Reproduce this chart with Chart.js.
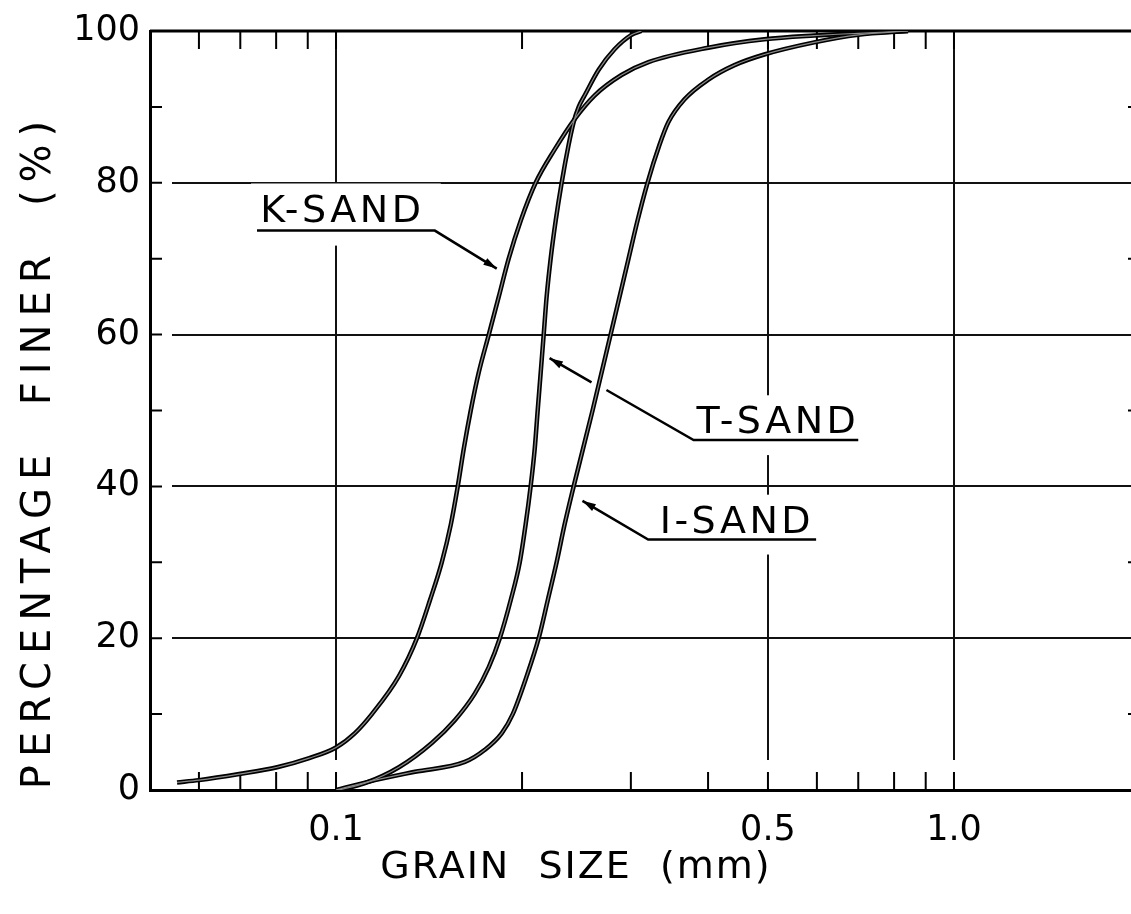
<!DOCTYPE html>
<html lang="en">
<head>
<meta charset="UTF-8">
<title>Grain size distribution</title>
<script src="https://cdn.jsdelivr.net/npm/chart.js@4.4.0/dist/chart.umd.min.js"></script>
<style>
  html, body { margin: 0; padding: 0; background: #fff; overflow: hidden; }
</style>
</head>
<body>
<canvas id="myChart" width="1145" height="914"></canvas>
<script>
// grain size (mm) / percentage finer (%)
const kSize  = [0.0553, 0.0600, 0.0697, 0.0803, 0.0905, 0.100, 0.1073, 0.1143, 0.1264, 0.1352, 0.1419, 0.1483, 0.1534, 0.1574, 0.1610, 0.1652, 0.1702, 0.1767, 0.1834, 0.1903, 0.1990, 0.2104, 0.2259, 0.2433, 0.2620, 0.2897, 0.3204, 0.4005, 0.4932, 0.5941, 0.70, 0.8427];
const kFiner = [1.0, 1.3, 2.1, 3.0, 4.2, 5.6, 7.5, 10, 15, 20, 25, 30, 35, 40, 45, 50, 55, 60, 65, 70, 75, 80, 84.4, 88.4, 91.5, 94.2, 95.9, 97.8, 98.9, 99.4, 99.7, 100];

const tSize  = [0.1011, 0.1114, 0.1264, 0.1429, 0.1557, 0.1677, 0.1767, 0.1841, 0.1917, 0.1983, 0.2027, 0.2065, 0.2097, 0.2120, 0.2144, 0.2168, 0.2192, 0.2225, 0.2267, 0.2318, 0.2379, 0.2424, 0.2470, 0.2525, 0.2661, 0.2823, 0.3008, 0.3121];
const tFiner = [0, 0.9, 3.0, 6.2, 9.2, 12.7, 16.2, 20, 25, 30, 35, 40, 45, 50, 55, 60, 65, 70, 75, 80, 85, 88, 90, 91.5, 94.9, 97.6, 99.5, 100];

const iSize  = [0.100, 0.1156, 0.1342, 0.1616, 0.1741, 0.1855, 0.1932, 0.2035, 0.2128, 0.2201, 0.2275, 0.2344, 0.2424, 0.2601, 0.2782, 0.2974, 0.3075, 0.3192, 0.3338, 0.3451, 0.3664, 0.4005, 0.4415, 0.4932, 0.5941, 0.70, 0.8427];
const iFiner = [0, 1.3, 2.4, 3.7, 5.3, 7.5, 10, 15, 20, 25, 30, 35, 40, 50, 60, 70, 75, 80, 85, 88, 91, 93.6, 95.5, 96.9, 98.5, 99.5, 100];

const xTickValues = [0.1, 0.5, 1.0];
const xTickLabels = ['0.1', '0.5', '1.0'];
const xMinorTicks = [0.06, 0.07, 0.08, 0.09, 0.1, 0.2, 0.3, 0.4, 0.5, 0.6, 0.7, 0.8, 0.9, 1.0];
const yLeftTicks = [10, 20, 30, 40, 50, 60, 70, 80, 90];
const yRightTicks = [10, 30, 50, 70, 90];

// labels with their leader lines, in data units
const notes = [
  { text: 'K-SAND', at: [0.0754, 74.9], line: [[0.0745, 73.7], [0.1445, 73.7], [0.182, 68.7]] },
  { text: 'T-SAND', at: [0.383, 47.0], line: [[0.700, 46.1], [0.379, 46.1], [0.2739, 52.7]], tail: [[0.2591, 53.7], [0.2216, 56.9]] },
  { text: 'I-SAND', at: [0.334, 33.9], line: [[0.5983, 33.0], [0.3200, 33.0], [0.2505, 38.1]] }
];

Chart.defaults.font.family = "'DejaVu Sans', sans-serif";
Chart.defaults.color = '#000';

function pts(xs, ys) {
  return xs.map((v, i) => ({ x: v, y: ys[i] }));
}

const curves = [pts(kSize, kFiner), pts(tSize, tFiner), pts(iSize, iFiner)];
const datasets = [];
curves.forEach(c => {
  datasets.push({ data: c, borderColor: '#000', borderWidth: 4.5, pointRadius: 0, cubicInterpolationMode: 'monotone', order: 2 });
  datasets.push({ data: c, borderColor: '#8a8a8a', borderWidth: 1.2, pointRadius: 0, cubicInterpolationMode: 'monotone', order: 1 });
});

function arrow(ctx, p0, p1) {
  const a = Math.atan2(p1[1] - p0[1], p1[0] - p0[0]);
  const len = 14, w = 0.28;
  ctx.beginPath();
  ctx.moveTo(p1[0], p1[1]);
  ctx.lineTo(p1[0] - len * Math.cos(a - w), p1[1] - len * Math.sin(a - w));
  ctx.lineTo(p1[0] - len * Math.cos(a + w), p1[1] - len * Math.sin(a + w));
  ctx.closePath();
  ctx.fill();
}

const sketch = {
  id: 'sketch',
  beforeDatasetsDraw(chart) {
    const { ctx, chartArea: a, scales: { x, y } } = chart;
    const P = p => [x.getPixelForValue(p[0]), y.getPixelForValue(p[1])];
    ctx.save();

    // gridlines stop short of the left and bottom axes
    ctx.fillStyle = '#fff';
    ctx.fillRect(a.left + 2, a.top + 2, 20, a.bottom - a.top - 4);
    ctx.fillRect(a.left + 2, a.bottom - 30, a.right - a.left, 28);

    // inside ticks
    ctx.strokeStyle = '#000';
    ctx.lineWidth = 2;
    ctx.beginPath();
    xMinorTicks.forEach(v => {
      const px = x.getPixelForValue(v);
      ctx.moveTo(px, a.bottom); ctx.lineTo(px, a.bottom - 18);
      ctx.moveTo(px, a.top); ctx.lineTo(px, a.top + 18);
    });
    yLeftTicks.forEach(v => {
      const py = y.getPixelForValue(v);
      ctx.moveTo(a.left, py); ctx.lineTo(a.left + 12, py);
    });
    yRightTicks.forEach(v => {
      const py = y.getPixelForValue(v);
      ctx.moveTo(a.right, py); ctx.lineTo(a.right - 12, py);
    });
    ctx.stroke();

    // top and right frame
    ctx.lineWidth = 3;
    ctx.beginPath();
    ctx.moveTo(a.left, a.top); ctx.lineTo(a.right, a.top); ctx.lineTo(a.right, a.bottom);
    ctx.stroke();

    // curve labels
    ctx.font = "38px 'DejaVu Sans'";
    ctx.letterSpacing = '3.5px';
    ctx.textBaseline = 'alphabetic';
    ctx.textAlign = 'left';
    notes.forEach(n => {
      const t = P(n.at);
      const line = n.line.map(P);
      const x0 = Math.min(line[0][0], line[1][0]), x1 = Math.max(line[0][0], line[1][0]);
      ctx.fillStyle = '#fff';
      ctx.fillRect(x0 - 6, t[1] - 38, x1 - x0 + 12, line[1][1] - t[1] + 53);
      ctx.fillStyle = '#000';
      ctx.fillText(n.text, t[0], t[1]);
      ctx.lineWidth = 2.5;
      ctx.beginPath();
      line.forEach((p, i) => i ? ctx.lineTo(p[0], p[1]) : ctx.moveTo(p[0], p[1]));
      let last = line;
      if (n.tail) {
        last = n.tail.map(P);
        ctx.moveTo(last[0][0], last[0][1]);
        ctx.lineTo(last[1][0], last[1][1]);
      }
      ctx.stroke();
      arrow(ctx, last[last.length - 2], last[last.length - 1]);
    });

    // axis titles
    ctx.font = "38px 'DejaVu Sans'";
    ctx.textAlign = 'center';
    ctx.textBaseline = 'alphabetic';
    ctx.letterSpacing = '2px';
    ctx.fillText('GRAIN  SIZE  (mm)', 576, 878);
    ctx.font = "40px 'DejaVu Sans'";
    ctx.translate(50, 451);
    ctx.rotate(-Math.PI / 2);
    ctx.letterSpacing = '8px';
    ctx.fillText('PERCENTAGE  FINER  (%)', 0, 0);
    ctx.restore();
  }
};

const ctx = document.getElementById('myChart').getContext('2d');
const myChart = new Chart(ctx, {
  type: 'line',
  data: { datasets: datasets },
  options: {
    responsive: false,
    animation: false,
    devicePixelRatio: 1,
    layout: { padding: { top: 28, right: 5, left: 0, bottom: 0 } },
    plugins: { legend: { display: false }, tooltip: { enabled: false } },
    scales: {
      x: {
        type: 'logarithmic',
        min: 0.05,
        max: 2,
        afterBuildTicks: s => { s.ticks = xTickValues.map(v => ({ value: v })); },
        afterFit: s => { s.height = 124; },
        ticks: {
          autoSkip: false,
          maxRotation: 0,
          padding: 20,
          color: '#000',
          font: { size: 35 },
          callback: (v, i) => xTickLabels[i]
        },
        grid: { color: '#111', lineWidth: 2, drawTicks: false },
        border: { color: '#000', width: 3 }
      },
      y: {
        min: 0,
        max: 100,
        afterFit: s => { s.width = 150; },
        ticks: { stepSize: 20, padding: 10, color: '#000', font: { size: 35 } },
        grid: { color: '#111', lineWidth: 2, drawTicks: false },
        border: { color: '#000', width: 3 }
      }
    }
  },
  plugins: [sketch]
});
</script>
</body>
</html>
